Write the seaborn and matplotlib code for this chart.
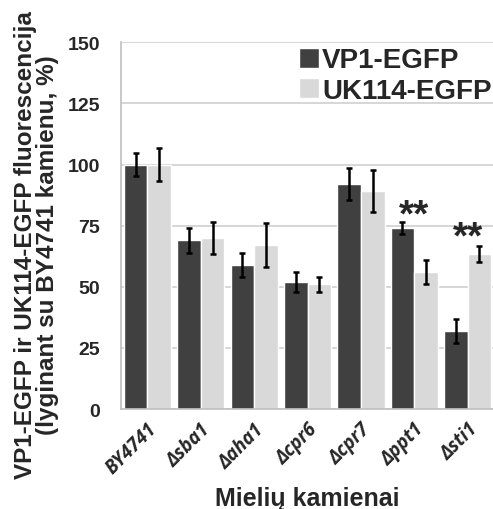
import matplotlib

matplotlib.use("Agg")
import matplotlib.pyplot as plt
import numpy as np
import pandas as pd
import seaborn as sns

# Duomenys (nuskaityti nuo paveikslo)
strains = ["BY4741", "Δsba1", "Δaha1", "Δcpr6", "Δcpr7", "Δppt1", "Δsti1"]
vp1_mean = [100, 69, 59, 52, 92, 74, 32]
vp1_sd = [4.6, 5, 5, 4, 6.5, 2.5, 5]
uk114_mean = [100, 70, 67, 51, 89, 56, 63.5]
uk114_sd = [6.8, 6.4, 9, 3.2, 8.6, 5, 3.2]
series = ["VP1-EGFP", "UK114-EGFP"]
stars = {"Δppt1": 79, "Δsti1": 70}

df = pd.DataFrame(
    {
        "strain": strains * 2,
        "series": [series[0]] * len(strains) + [series[1]] * len(strains),
        "value": vp1_mean + uk114_mean,
        "sd": vp1_sd + uk114_sd,
    }
)

sns.set_style("white")
plt.rcParams["font.family"] = ["Liberation Sans", "DejaVu Sans"]

fig = plt.figure(figsize=(4.93, 5.10), dpi=100)
ax = fig.add_axes([0.2448, 0.196, 0.758, 0.719])

sns.barplot(
    data=df,
    x="strain",
    y="value",
    hue="series",
    palette=["#404040", "#d9d9d9"],
    width=0.885,
    errorbar=None,
    saturation=1,
    ax=ax,
    zorder=2,
)

# Paklaidos pagal stulpeliu padetis
bars = [p for p in ax.patches if p.get_height() > 0]
for bar, sd in zip(bars, df["sd"]):
    ax.errorbar(
        bar.get_x() + bar.get_width() / 2,
        bar.get_height(),
        yerr=sd,
        color="black",
        elinewidth=1.8,
        capsize=2.5,
        capthick=1.8,
        zorder=3,
    )

for name, y in stars.items():
    ax.text(
        strains.index(name), y, "**", ha="center", va="center",
        fontsize=28, fontweight="bold",
    )

ax.set_ylim(0, 150)
ax.set_xlim(-0.5, len(strains) - 0.5)
ax.set_yticks([0, 25, 50, 75, 100, 125, 150])
ax.yaxis.grid(True, color="#d0d0d0", linewidth=1.2, zorder=0)
ax.set_axisbelow(True)

for side in ["top", "right"]:
    ax.spines[side].set_visible(False)
for side in ["left", "bottom"]:
    ax.spines[side].set_color("#bfbfbf")
    ax.spines[side].set_linewidth(1.2)

ax.tick_params(axis="y", length=5, color="#bfbfbf", width=1.2, pad=10, labelsize=14)
for t in ax.get_yticklabels():
    t.set_fontweight("bold")

# x ticks at category boundaries
ax.set_xticks(np.arange(-0.5, len(strains)), minor=True)
ax.tick_params(axis="x", which="minor", length=6, color="#bfbfbf", width=1.2)
ax.tick_params(axis="x", which="major", length=0, pad=7)
ax.set_xticklabels(
    strains, rotation=45, ha="right", rotation_mode="anchor",
    fontsize=13.5, fontweight="bold", fontstyle="italic", family="Open Sans",
)

ax.set_xlabel("Mielių kamienai", fontsize=18, fontweight="bold", labelpad=6)
ax.set_ylabel(
    "VP1-EGFP ir UK114-EGFP fluorescencija\n(lyginant su BY4741 kamienu, %)",
    fontsize=17.5, fontweight="bold", linespacing=0.95,
)
ax.yaxis.set_label_coords(-0.165, 0.45)

ax.legend(
    loc="upper right",
    bbox_to_anchor=(0.997, 0.905),
    bbox_transform=fig.transFigure,
    frameon=False,
    prop={"size": 20, "weight": "bold"},
    handlelength=0.72,
    handleheight=0.72,
    handletextpad=0.1,
    labelspacing=0.15,
    borderpad=0,
    borderaxespad=0,
)

plt.savefig("out.png", dpi=100)
plt.close()
